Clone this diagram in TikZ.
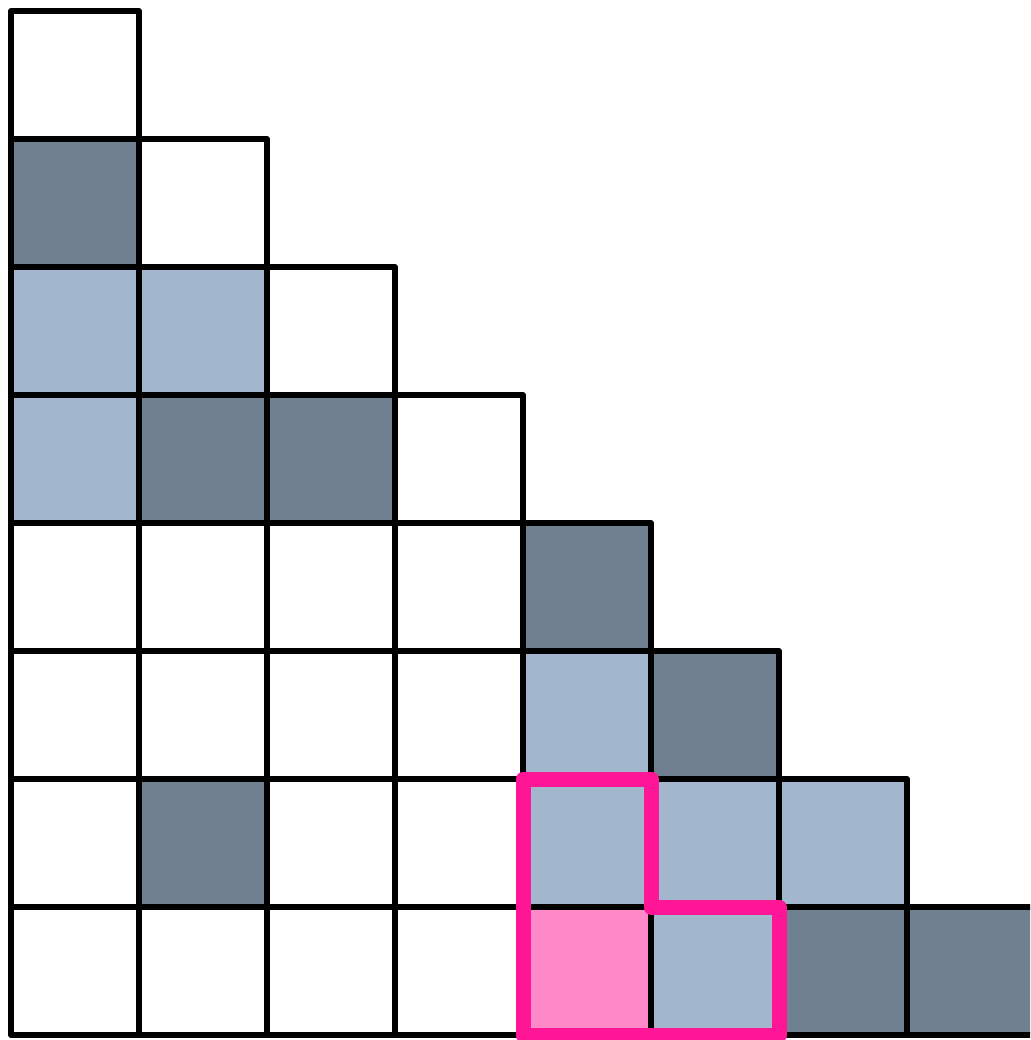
\documentclass[tikz,border=0pt]{standalone}
\definecolor{darkcell}{RGB}{112,128,144}
\definecolor{lightcell}{RGB}{162,182,205}
\definecolor{pinkcell}{RGB}{255,136,200}
\definecolor{pinkline}{RGB}{255,22,150}
\tikzset{
  cellbox/.style={draw=black,line width=0.06cm,line join=round},
  hilite/.style={draw=pinkline,line width=0.15cm,line join=round},
}
\begin{document}
\begin{tikzpicture}[x=0.01cm,y=-0.01cm]
\useasboundingbox (0,0) rectangle (1030,1040);
\clip (0,0) rectangle (1030,1040);
\foreach \r in {1,...,8}{
  \foreach \c in {1,...,\r}{
    \pgfmathsetmacro{\xa}{11+128*(\c-1)}
    \pgfmathsetmacro{\ya}{11+128*(\r-1)}
    \xdef\fc{white}
    \foreach \rr/\cc in {2/1,4/2,4/3,5/5,6/6,7/2,8/7,8/8}{
      \ifnum\r=\rr\relax\ifnum\c=\cc\relax\xdef\fc{darkcell}\fi\fi}
    \foreach \rr/\cc in {3/1,3/2,4/1,6/5,7/5,7/6,7/7,8/6}{
      \ifnum\r=\rr\relax\ifnum\c=\cc\relax\xdef\fc{lightcell}\fi\fi}
    \ifnum\r=8\relax\ifnum\c=5\relax\xdef\fc{pinkcell}\fi\fi
    \fill[\fc] (\xa,\ya) rectangle ++(128,128);
  }
}
\foreach \r in {1,...,8}{
  \foreach \c in {1,...,\r}{
    \pgfmathsetmacro{\xa}{11+128*(\c-1)}
    \pgfmathsetmacro{\ya}{11+128*(\r-1)}
    \draw[cellbox] (\xa,\ya) rectangle ++(128,128);
  }
}
\draw[hilite] (523,779) -- (651,779) -- (651,907) -- (779,907) -- (779,1035) -- (523,1035) -- cycle;
\end{tikzpicture}
\end{document}
